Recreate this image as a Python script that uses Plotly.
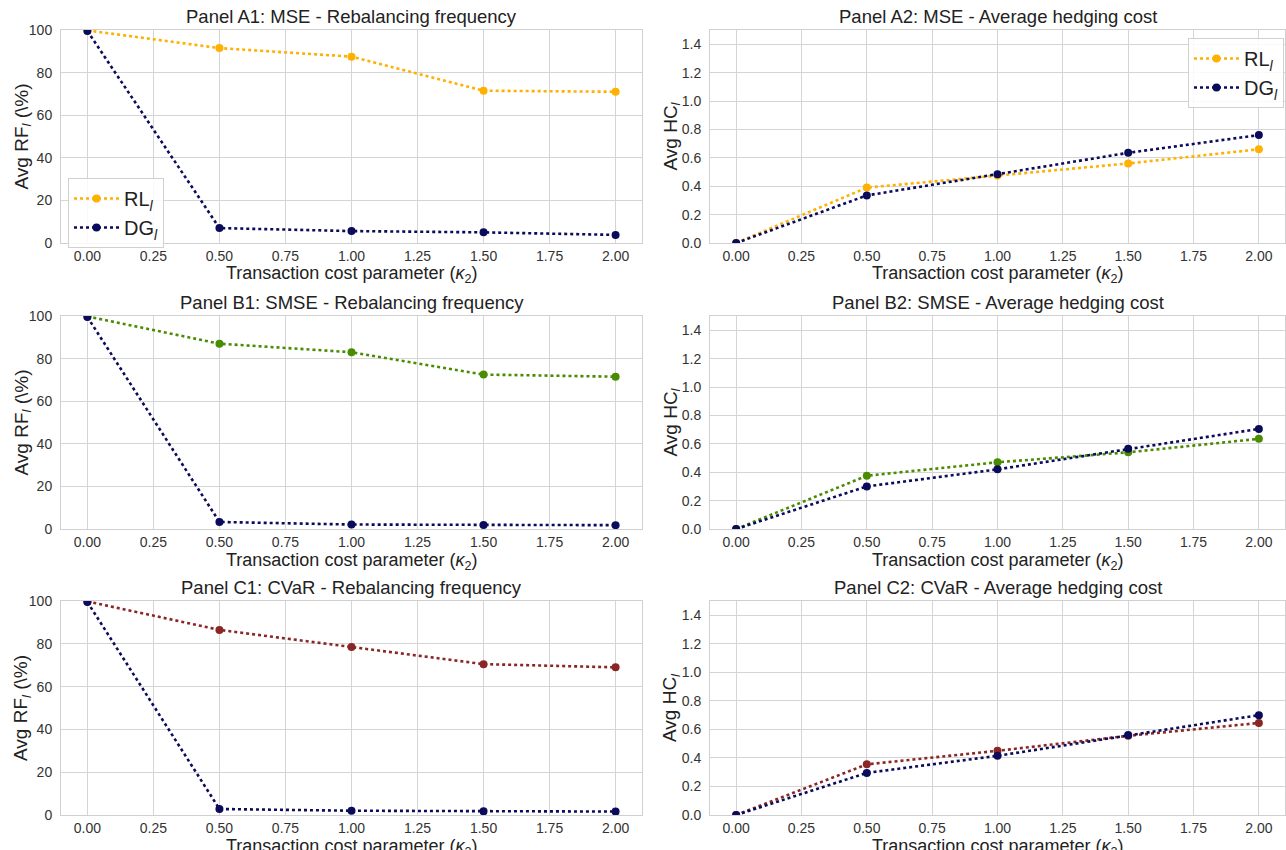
import plotly.graph_objects as go
from plotly.subplots import make_subplots

kappa = [0.0, 0.5, 1.0, 1.5, 2.0]

# Panel A (MSE)
a_rf_rl = [99.8, 91.5, 87.5, 71.5, 71.0]
a_rf_dg = [99.5, 7.0, 5.6, 5.0, 3.8]
a_hc_rl = [0.0, 0.39, 0.475, 0.56, 0.66]
a_hc_dg = [0.0, 0.335, 0.485, 0.635, 0.76]
# Panel B (SMSE)
b_rf_rl = [99.8, 87.0, 83.0, 72.5, 71.5]
b_rf_dg = [99.5, 3.3, 2.1, 1.9, 1.8]
b_hc_rl = [0.0, 0.375, 0.47, 0.54, 0.635]
b_hc_dg = [0.0, 0.30, 0.42, 0.565, 0.705]
# Panel C (CVaR)
c_rf_rl = [99.8, 86.5, 78.5, 70.5, 69.0]
c_rf_dg = [99.5, 2.8, 2.0, 1.7, 1.6]
c_hc_rl = [0.0, 0.355, 0.45, 0.555, 0.645]
c_hc_dg = [0.0, 0.295, 0.415, 0.56, 0.70]

titles = [
    "Panel A1: MSE - Rebalancing frequency", "Panel A2: MSE - Average hedging cost",
    "Panel B1: SMSE - Rebalancing frequency", "Panel B2: SMSE - Average hedging cost",
    "Panel C1: CVaR - Rebalancing frequency", "Panel C2: CVaR - Average hedging cost",
]
x_title = "Transaction cost parameter (<i>κ</i><sub>2</sub>)"
y_title_rf = "Avg RF<sub><i>l</i></sub> (&#92;%)"
y_title_hc = "Avg HC<sub><i>l</i></sub>"
x_ticks = [0.0, 0.25, 0.5, 0.75, 1.0, 1.25, 1.5, 1.75, 2.0]
rf_ticks = [0, 20, 40, 60, 80, 100]
hc_ticks = [0.0, 0.2, 0.4, 0.6, 0.8, 1.0, 1.2, 1.4]

ORANGE = "#FFB000"
NAVY = "#0B0B5C"
GREEN = "#4A8C00"
RED = "#8B2626"
FONT = "Liberation Sans, Arial, sans-serif"
TXT = "#222222"

fig = make_subplots(rows=3, cols=2, subplot_titles=titles,
                    horizontal_spacing=0.05, vertical_spacing=0.08)

rows = [
    (a_rf_rl, a_rf_dg, a_hc_rl, a_hc_dg, ORANGE),
    (b_rf_rl, b_rf_dg, b_hc_rl, b_hc_dg, GREEN),
    (c_rf_rl, c_rf_dg, c_hc_rl, c_hc_dg, RED),
]

def add(y, color, name, r, c, legend=None):
    fig.add_trace(go.Scatter(
        x=kappa, y=y, mode="lines+markers", name=name,
        line=dict(color=color, width=2.6, dash="dot"),
        marker=dict(color=color, size=8),
        showlegend=legend is not None, legend=legend or "legend",
    ), row=r, col=c)

RL = "RL<sub><i>l</i></sub>"
DG = "DG<sub><i>l</i></sub>"
for i, (rf_rl, rf_dg, hc_rl, hc_dg, col) in enumerate(rows):
    r = i + 1
    leg1 = "legend" if r == 1 else None
    leg2 = "legend2" if r == 1 else None
    add(rf_rl, col, RL, r, 1, leg1)
    add(rf_dg, NAVY, DG, r, 1, leg1)
    add(hc_rl, col, RL, r, 2, leg2)
    add(hc_dg, NAVY, DG, r, 2, leg2)

W, H = 1286, 850
col_dom = [(61 / W, 642 / W), (710 / W, 1285 / W)]
row_dom = [(30, 243), (316, 529), (601, 815)]
ytitle_x = [22, 671]

axis_common = dict(showgrid=True, gridcolor="#D5D5D5", gridwidth=1, automargin=False,
                   showline=True, linecolor="#D0D0D0", linewidth=1, mirror=True,
                   zeroline=False, ticks="",
                   tickfont=dict(size=14, color="#333333", family=FONT))

idx = 0
for r in range(3):
    for c in range(2):
        idx += 1
        xa = "xaxis" if idx == 1 else f"xaxis{idx}"
        ya = "yaxis" if idx == 1 else f"yaxis{idx}"
        top, bot = row_dom[r]
        fig.layout[xa].update(domain=list(col_dom[c]), range=[-0.1, 2.1],
                              tickvals=x_ticks, ticktext=[f"{v:.2f}" for v in x_ticks],
                              ticklabelstandoff=0, **axis_common)
        if c == 0:
            fig.layout[ya].update(domain=[1 - bot / H, 1 - top / H], range=[0, 100],
                                  tickvals=rf_ticks, ticklabelstandoff=5, **axis_common)
        else:
            fig.layout[ya].update(domain=[1 - bot / H, 1 - top / H], range=[0, 1.5],
                                  tickvals=hc_ticks, ticktext=[f"{v:.1f}" for v in hc_ticks],
                                  ticklabelstandoff=5, **axis_common)

for k, ann in enumerate(fig.layout.annotations):
    r, c = divmod(k, 2)
    top, bot = row_dom[r]
    ann.update(x=sum(col_dom[c]) / 2, y=1 - top / H, yanchor="bottom", yshift=1,
               font=dict(size=18.5, color=TXT, family=FONT))

# axis titles as annotations (paper coords)
for r in range(3):
    top, bot = row_dom[r]
    for c in range(2):
        fig.add_annotation(text=x_title, xref="paper", yref="paper",
                           x=sum(col_dom[c]) / 2, y=1 - (bot + 32) / H,
                           xanchor="center", yanchor="middle", showarrow=False,
                           font=dict(size=18, color=TXT, family=FONT))
        fig.add_annotation(text=y_title_rf if c == 0 else y_title_hc,
                           xref="paper", yref="paper", textangle=-90,
                           x=ytitle_x[c] / W, y=1 - (top + bot) / 2 / H,
                           xanchor="center", yanchor="middle", showarrow=False,
                           font=dict(size=19, color=TXT, family=FONT))

legend_common = dict(bgcolor="rgba(255,255,255,0.85)", bordercolor="#D0D0D0", borderwidth=1,
                     font=dict(size=20, color=TXT, family=FONT), itemwidth=45,
                     tracegroupgap=0)
fig.update_layout(
    width=W, height=H,
    margin=dict(l=0, r=0, t=0, b=0),
    paper_bgcolor="white", plot_bgcolor="white",
    font=dict(family=FONT, color=TXT),
    legend=dict(x=68 / W, y=1 - 178 / H, xanchor="left", yanchor="top", **legend_common),
    legend2=dict(x=1284 / W, y=1 - 38 / H, xanchor="right", yanchor="top", **legend_common),
)

fig.write_html("out.html", config={"displayModeBar": False},
               post_script="document.body.style.margin='0';document.body.style.overflow='hidden';")
